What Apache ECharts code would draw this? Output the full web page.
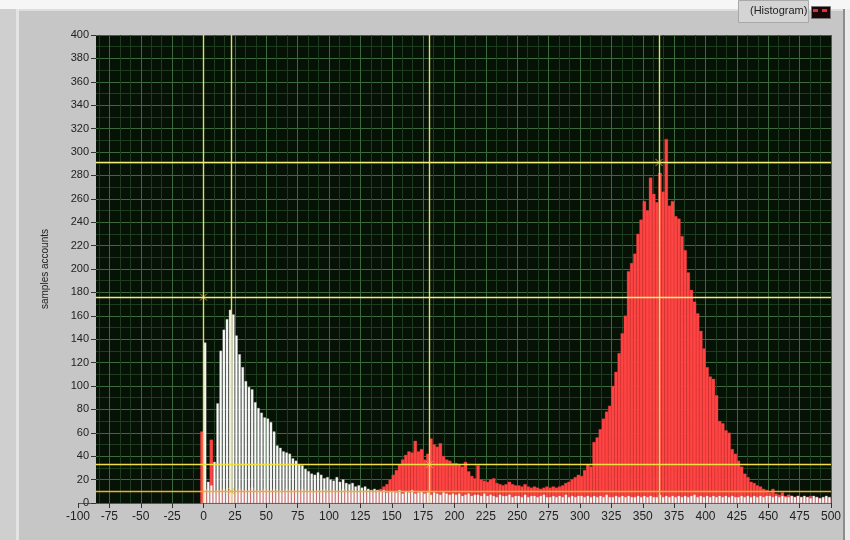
<!DOCTYPE html>
<html>
<head>
<meta charset="utf-8">
<script src="https://cdn.jsdelivr.net/npm/echarts@6/dist/echarts.min.js"></script>
<style>
  html, body { margin: 0; padding: 0; background: #c6c6c6; }
  #chart { width: 850px; height: 540px; }
</style>
</head>
<body>
<div id="chart"></div>
<script>
// Histogram bins: 2.5 units wide, the first bin starts at -2.5
const binStart = -2.5;
const binWidth = 2.5;

// red channel counts, one line per 25 units of x
const redCounts = [
  61,
  12, 12, 54, 10, 11, 9, 12, 10, 11, 9,
  10, 12, 9, 11, 10, 13, 9, 11, 10, 12,
  11, 9, 12, 10, 11, 9, 12, 10, 11, 9,
  10, 12, 9, 11, 10, 9, 11, 10, 12, 9,
  10, 11, 9, 10, 12, 9, 10, 11, 9, 10,
  10, 9, 11, 10, 9, 11, 12, 14, 16, 20,
  24, 28, 33, 37, 41, 44, 43, 53, 44, 46,
  37, 42, 55, 50, 48, 51, 40, 37, 36, 34,
  34, 33, 31, 35, 27, 23, 21, 32, 20, 19,
  18, 20, 21, 17, 16, 15, 16, 18, 16, 15,
  15, 14, 16, 14, 13, 14, 13, 12, 13, 14,
  13, 14, 13, 14, 15, 17, 18, 20, 22, 24,
  23, 28, 33, 31, 52, 56, 63, 72, 78, 83,
  100, 112, 128, 145, 160, 198, 205, 213, 230, 242,
  258, 250, 278, 264, 257, 282, 266, 311, 254, 258,
  245, 243, 228, 216, 197, 182, 172, 162, 147, 132,
  116, 108, 106, 92, 70, 68, 62, 60, 46, 42,
  36, 31, 25, 22, 18, 17, 15, 14, 12, 11,
  9, 12, 8, 7, 9, 6, 7, 6, 5, 6,
  5, 4, 5, 6, 4, 5, 4, 3, 5, 4
];

// white channel counts, same bins
const whiteCounts = [
  0,
  137, 18, 15, 35, 85, 130, 148, 157, 165, 161,
  143, 127, 116, 104, 99, 97, 86, 81, 77, 73,
  72, 69, 61, 49, 47, 44, 43, 42, 38, 36,
  33, 32, 29, 27, 25, 24, 26, 24, 21, 22,
  20, 19, 22, 18, 20, 17, 16, 17, 14, 15,
  13, 14, 12, 11, 12, 11, 10, 11, 9, 10,
  10, 9, 11, 8, 10, 9, 11, 8, 9, 10,
  8, 9, 7, 9, 8, 7, 9, 8, 7, 8,
  7, 8, 6, 7, 8, 6, 7, 7, 6, 8,
  6, 7, 6, 5, 7, 6, 6, 7, 5, 6,
  6, 5, 7, 5, 6, 6, 5, 6, 7, 5,
  5, 6, 5, 6, 5, 7, 5, 6, 5, 6,
  6, 5, 6, 5, 6, 5, 6, 5, 7, 5,
  5, 6, 5, 6, 5, 6, 5, 5, 6, 5,
  6, 5, 6, 5, 5, 7, 5, 6, 5, 6,
  5, 6, 5, 6, 5, 6, 7, 5, 6, 5,
  6, 5, 6, 5, 6, 5, 6, 5, 6, 5,
  5, 6, 5, 6, 5, 6, 5, 6, 5, 6,
  6, 5, 6, 5, 6, 5, 5, 6, 5, 6,
  5, 6, 5, 4, 6, 5, 4, 5, 6, 5
];

// cursors: vertical positions on x, horizontal positions on y (paired by index)
const cursorX = [0, 22, 180, 363];
const cursorY = [176, 10, 33, 291];
const cursorYColors = ['#eeee78', '#e8b428', '#eee040', '#eeee78'];

// axis ranges
const xMin = -100, xMax = 500, xStep = 25;
const yMin = 0, yMax = 400, yStep = 20;

const toBins = counts => counts.map((v, i) => [binStart + i * binWidth, v]);

function binRenderer(fill, stroke, lineWidth, frac) {
  return function (params, api) {
    const x0 = api.value(0);
    const v = api.value(1);
    const base = api.coord([x0, 0]);
    const top = api.coord([x0 + binWidth, v]);
    const full = top[0] - base[0];
    const w = full * frac;
    return {
      type: 'rect',
      shape: { x: base[0] + (full - w) / 2, y: top[1], width: w, height: base[1] - top[1] },
      style: { fill: fill, stroke: stroke, lineWidth: lineWidth }
    };
  };
}

const chart = echarts.init(document.getElementById('chart'), null, { renderer: 'canvas' });

const labelFont = { fontFamily: '"Liberation Sans Narrow", "Liberation Sans", Arial, sans-serif', fontSize: 11, color: '#222' };

chart.setOption({
  animation: false,
  backgroundColor: '#c6c6c6',
  grid: {
    left: 78, right: 19, top: 35, bottom: 37,
    show: true, backgroundColor: '#061206', borderWidth: 0
  },
  xAxis: {
    type: 'value', min: xMin, max: xMax, interval: xStep,
    axisLine: { show: false },
    axisTick: { show: true, length: 5, lineStyle: { color: '#333' } },
    axisLabel: Object.assign({ margin: 8 }, labelFont, { fontSize: 12 }),
    splitLine: { show: true, lineStyle: { color: '#3c6a3c', width: 1 } },
    minorTick: { show: false, splitNumber: 3 },
    minorSplitLine: { show: true, lineStyle: { color: '#1e3c20', width: 1 } }
  },
  yAxis: [
    {
      type: 'value', min: yMin, max: yMax, interval: yStep,
      axisLine: { show: false }, axisTick: { show: false }, axisLabel: { show: false },
      splitLine: { show: true, lineStyle: { color: '#3c6a3c', width: 1 } },
      minorTick: { show: false, splitNumber: 2 },
      minorSplitLine: { show: true, lineStyle: { color: '#1e3c20', width: 1 } }
    },
    {
      type: 'value', min: yMin, max: yMax, interval: yStep,
      position: 'left', offset: -18, z: 12,
      name: 'samples accounts', nameLocation: 'middle', nameGap: 46, nameRotate: 90,
      nameTextStyle: { fontFamily: '"Liberation Sans", Arial, sans-serif', fontSize: 10, color: '#222' },
      axisLine: { show: false },
      axisTick: { show: true, length: 5, lineStyle: { color: '#333' } },
      axisLabel: Object.assign({ margin: 7 }, labelFont),
      splitLine: { show: false }
    }
  ],
  graphic: [
    // panel strip left of the plot area
    { type: 'rect', z: 10, left: 78, top: 35, shape: { width: 18, height: 468 }, style: { fill: '#c6c6c6' } },
    // window frame: top band, left bevel, right edge
    { type: 'rect', z: 10, left: 0, top: 0, shape: { width: 850, height: 9 }, style: { fill: '#f6f6f6' } },
    { type: 'rect', z: 10, left: 0, top: 9, shape: { width: 16, height: 531 }, style: { fill: '#cfcfcf' } },
    { type: 'rect', z: 10, left: 16, top: 9, shape: { width: 3, height: 531 }, style: { fill: '#e4e4e4' } },
    { type: 'rect', z: 10, left: 19, top: 9, shape: { width: 824, height: 2 }, style: { fill: '#dedede' } },
    { type: 'rect', z: 10, left: 843, top: 9, shape: { width: 2, height: 531 }, style: { fill: '#8c8c8c' } },
    { type: 'rect', z: 10, left: 845, top: 9, shape: { width: 5, height: 531 }, style: { fill: '#ececec' } },
    // plot legend button
    { type: 'rect', z: 10, left: 738, top: 0, shape: { width: 70, height: 22 }, style: { fill: '#d4d4d4', stroke: '#a8a8a8', lineWidth: 1 } },
    { type: 'text', z: 11, left: 750, top: 5, style: { text: '(Histogram)', font: '11px "Liberation Sans Narrow", "Liberation Sans", Arial, sans-serif', fill: '#222' } },
    { type: 'rect', z: 11, left: 811, top: 6, shape: { width: 19, height: 12 }, style: { fill: '#1a0808', stroke: '#777', lineWidth: 1 } },
    { type: 'rect', z: 12, left: 813, top: 9, shape: { width: 5, height: 3 }, style: { fill: '#e03030' } },
    { type: 'rect', z: 12, left: 822, top: 9, shape: { width: 5, height: 3 }, style: { fill: '#e03030' } }
  ],
  series: [
    {
      name: 'red', type: 'custom', z: 2,
      renderItem: binRenderer('#ff4444', '#d23030', 0.35, 1),
      data: toBins(redCounts)
    },
    {
      name: 'white', type: 'custom', z: 2,
      renderItem: binRenderer('#ffffff', '#b4b4b4', 0.4, 0.7),
      data: toBins(whiteCounts)
    },
    {
      name: 'cursors', type: 'scatter', z: 3,
      symbol: 'path://M0,0L10,10M10,0L0,10',
      symbolSize: 7,
      itemStyle: { color: 'rgba(0,0,0,0)', borderColor: '#e0b040', borderWidth: 1 },
      data: cursorX.map((x, i) => [x, cursorY[i]]),
      markLine: {
        silent: true, symbol: ['none', 'none'], label: { show: false }, animation: false,
        data: cursorX.map(x => ({ xAxis: x, lineStyle: { color: '#dede62', width: 1.4, type: 'solid' } }))
          .concat(cursorY.map((y, i) => ({ yAxis: y, lineStyle: { color: cursorYColors[i], width: 1.4, type: 'solid' } })))
      }
    }
  ]
});
</script>
</body>
</html>
